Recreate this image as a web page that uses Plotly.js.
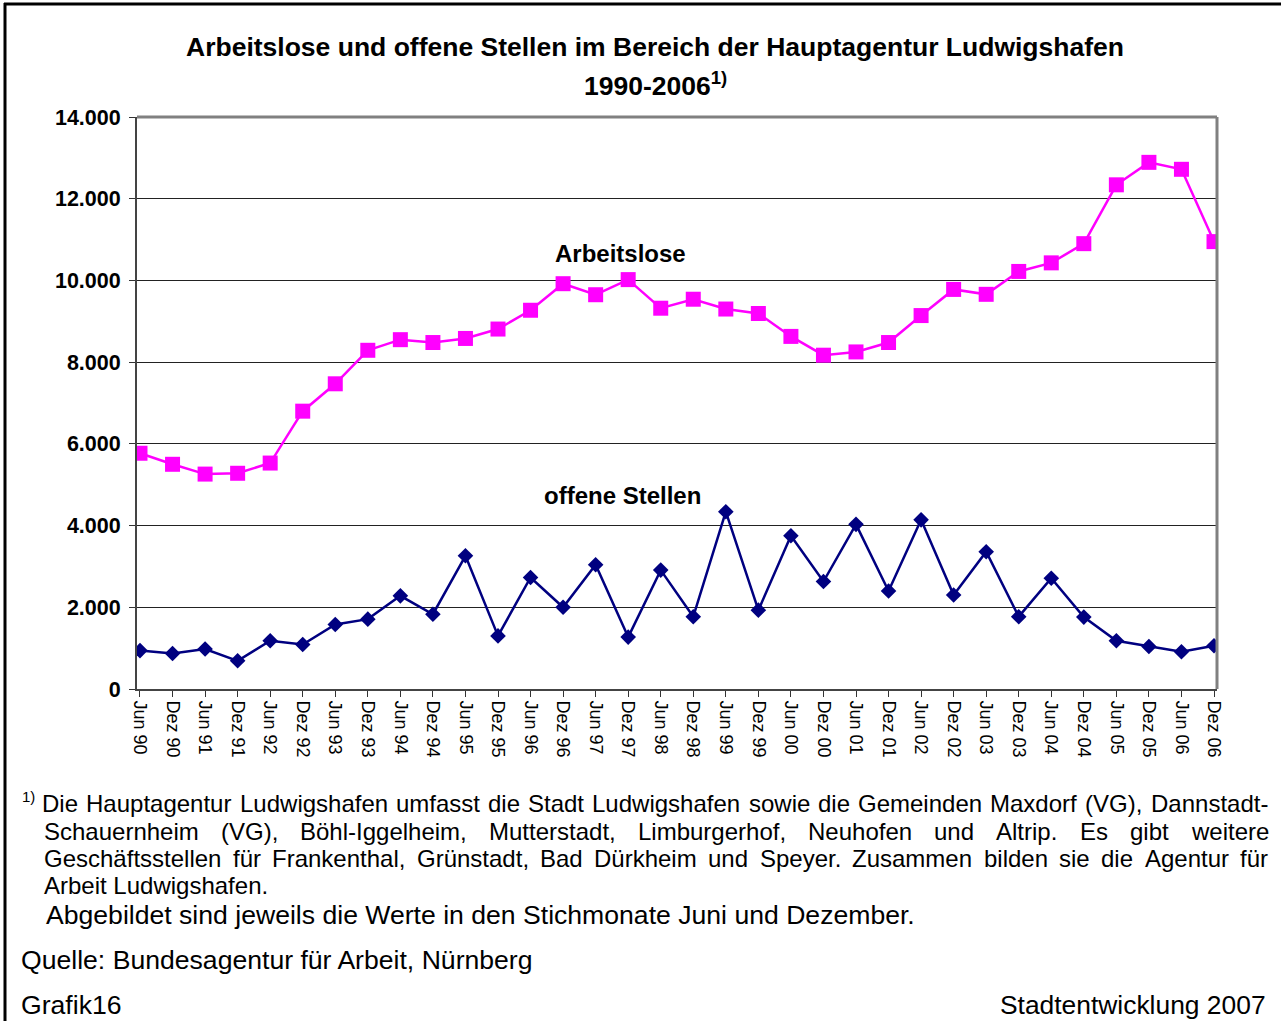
<!DOCTYPE html>
<html>
<head>
<meta charset="utf-8">
<script src="https://cdn.plot.ly/plotly-3.0.1.min.js"></script>
<style>
html,body{margin:0;padding:0;background:#fff;}
#chart{width:1281px;height:1021px;}
</style>
</head>
<body>
<div id="chart"></div>
<script>
const categories = ['Jun 90','Dez 90','Jun 91','Dez 91','Jun 92','Dez 92','Jun 93','Dez 93','Jun 94','Dez 94',
  'Jun 95','Dez 95','Jun 96','Dez 96','Jun 97','Dez 97','Jun 98','Dez 98','Jun 99','Dez 99',
  'Jun 00','Dez 00','Jun 01','Dez 01','Jun 02','Dez 02','Jun 03','Dez 03','Jun 04','Dez 04',
  'Jun 05','Dez 05','Jun 06','Dez 06'];
const arbeitslose = [5770,5500,5260,5280,5530,6800,7470,8290,8550,8480,
  8580,8810,9270,9920,9650,10020,9320,9540,9300,9190,
  8630,8170,8250,8480,9140,9780,9660,10220,10430,10900,
  12340,12890,12720,10950];
const offeneStellen = [940,870,980,690,1180,1090,1580,1710,2280,1830,
  3260,1300,2730,2000,3040,1270,2910,1770,4340,1930,
  3750,2630,4030,2400,4140,2300,3360,1770,2710,1760,
  1180,1040,910,1060];
const yTicks = [0,2000,4000,6000,8000,10000,12000,14000];

const titleLine1 = 'Arbeitslose und offene Stellen im Bereich der Hauptagentur Ludwigshafen';
const titleLine2 = '1990-2006<sup>1)</sup>';
const seriesNames = ['Arbeitslose','offene Stellen'];
const footnoteJustified = [
  'Die Hauptagentur Ludwigshafen umfasst die Stadt Ludwigshafen sowie die Gemeinden Maxdorf (VG), Dannstadt-',
  'Schauernheim (VG), Böhl-Iggelheim, Mutterstadt, Limburgerhof, Neuhofen und Altrip. Es gibt weitere',
  'Geschäftsstellen für Frankenthal, Grünstadt, Bad Dürkheim und Speyer. Zusammen bilden sie die Agentur für'
];
const footnoteLast = 'Arbeit Ludwigshafen.';
const noteLine = 'Abgebildet sind jeweils die Werte in den Stichmonate Juni und Dezember.';
const sourceLine = 'Quelle: Bundesagentur für Arbeit, Nürnberg';
const leftFooter = 'Grafik16';
const rightFooter = 'Stadtentwicklung 2007';

const FONT = 'Liberation Sans, Arial, sans-serif';
const W = 1281, H = 1021;
const M = {l:137, r:64, t:117, b:332};
const PW = W - M.l - M.r, PH = H - M.t - M.b;
const px = x => (x - M.l) / PW;
const py = y => (H - M.b - y) / PH;

const annotations = [];
function addText(text, x, y, size, opts) {
  annotations.push(Object.assign({
    text: text, xref: 'paper', yref: 'paper', x: px(x), y: py(y),
    xanchor: 'left', yanchor: 'middle', showarrow: false,
    font: {family: FONT, size: size, color: '#000'}, borderpad: 0
  }, opts || {}));
}

// series labels
addText('<b>' + seriesNames[0] + '</b>', 620, 253, 24, {xanchor: 'center'});
addText('<b>' + seriesNames[1] + '</b>', 622, 495, 24, {xanchor: 'center'});
// title line 2
addText('<b>' + titleLine2 + '</b>', 655, 84, 26.5, {xanchor: 'center'});

// footnote (justified lines)
const cv = document.createElement('canvas').getContext('2d');
cv.font = '24px "Liberation Sans", Arial, sans-serif';
const lineY = [803, 831, 858];
const lineX0 = [41, 43, 43];
const lineX1 = 1267;
footnoteJustified.forEach((line, i) => {
  const words = line.split(' ');
  const widths = words.map(w => cv.measureText(w).width);
  const total = widths.reduce((a, b) => a + b, 0);
  const gap = (lineX1 - lineX0[i] - total) / (words.length - 1);
  let x = lineX0[i];
  words.forEach((w, k) => {
    addText(w, x, lineY[i], 24);
    x += widths[k] + gap;
  });
});
addText(footnoteLast, 43, 885, 24);
addText('1)', 21, 796, 15);
addText(noteLine, 45, 915, 26.6);
addText(sourceLine, 20, 960, 26.6);
addText(leftFooter, 20, 1005, 26.6);
addText(rightFooter, 1267, 1005, 26.4, {xanchor: 'right'});

const shapes = [
  // outer frame (left and top)
  {type: 'line', xref: 'paper', yref: 'paper', x0: px(5), x1: px(5), y0: py(3), y1: py(1025), line: {color: '#000', width: 3}},
  {type: 'line', xref: 'paper', yref: 'paper', x0: px(4), x1: px(1285), y0: py(4), y1: py(4), line: {color: '#000', width: 3}},
  // plot area border top/right
  {type: 'line', xref: 'paper', yref: 'paper', x0: 0, x1: 1, y0: 1, y1: 1, line: {color: '#808080', width: 3}},
  {type: 'line', xref: 'paper', yref: 'paper', x0: 1, x1: 1, y0: 0, y1: 1, line: {color: '#808080', width: 3}}
];

const traces = [
  {
    type: 'scatter', mode: 'lines+markers', name: seriesNames[0],
    x: categories, y: arbeitslose,
    line: {color: '#FF00FF', width: 2.5},
    marker: {symbol: 'square', size: 15, color: '#FF00FF'}
  },
  {
    type: 'scatter', mode: 'lines+markers', name: seriesNames[1],
    x: categories, y: offeneStellen,
    line: {color: '#000080', width: 2.5},
    marker: {symbol: 'diamond', size: 12, color: '#000080'}
  }
];

const layout = {
  width: W, height: H,
  margin: M,
  paper_bgcolor: '#fff', plot_bgcolor: '#fff',
  showlegend: false,
  separators: ',.',
  title: {
    text: '<b>' + titleLine1 + '</b>',
    font: {family: FONT, size: 26.5, color: '#000'},
    x: 655 / W, xref: 'container', xanchor: 'center',
    y: 1 - 47 / H, yref: 'container', yanchor: 'middle'
  },
  xaxis: {
    type: 'category',
    range: [-0.092, 33.092],
    tickmode: 'array', tickvals: categories, ticktext: categories,
    tickangle: 90,
    ticks: 'outside', ticklen: 6, tickwidth: 1, tickcolor: '#333',
    showgrid: false, zeroline: false,
    showline: true, linecolor: '#444', linewidth: 2,
    tickfont: {family: FONT, size: 18, color: '#000'}
  },
  yaxis: {
    range: [0, 14000],
    tickmode: 'array', tickvals: yTicks,
    tickformat: ',d',
    ticks: 'outside', ticklen: 6, tickwidth: 1, tickcolor: '#333',
    ticklabelstandoff: 4,
    showgrid: true, gridcolor: '#222', gridwidth: 1,
    zeroline: false,
    showline: true, linecolor: '#444', linewidth: 2,
    tickfont: {family: FONT, size: 21.5, color: '#000', weight: 'bold'}
  },
  annotations: annotations,
  shapes: shapes
};

Plotly.newPlot('chart', traces, layout, {displayModeBar: false, staticPlot: true});
</script>
</body>
</html>
